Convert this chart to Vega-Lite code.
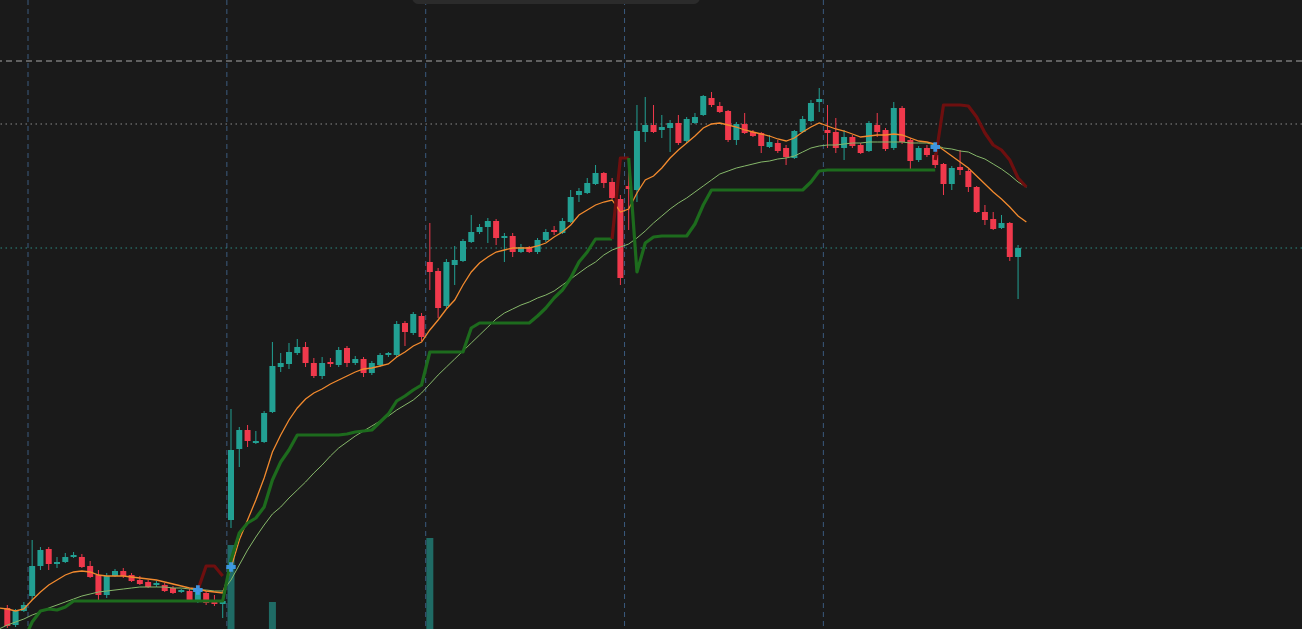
{
  "$schema": "https://vega.github.io/schema/vega-lite/v6.json",
  "width": 1302,
  "height": 629,
  "padding": 0,
  "autosize": {"type": "none"},
  "background": "#1a1a1a",
  "config": {"view": {"stroke": null}, "axis": {"disable": true}, "scale": {"continuousPadding": 0}},
  "datasets": {
    "candles": [
      {"i":0,"o":22.1,"h":22.4,"l":20.1,"c":20.3},{"i":1,"o":20.4,"h":22.0,"l":20.2,"c":21.8},{"i":2,"o":21.8,"h":22.7,"l":21.7,"c":22.4},{"i":3,"o":23.3,"h":28.9,"l":22.9,"c":26.3},{"i":4,"o":26.3,"h":28.2,"l":25.9,"c":27.9},{"i":5,"o":28.0,"h":28.2,"l":25.9,"c":26.5},{"i":6,"o":26.5,"h":27.2,"l":26.1,"c":26.7},{"i":7,"o":26.7,"h":27.6,"l":26.6,"c":27.2},{"i":8,"o":27.2,"h":27.7,"l":27.1,"c":27.4},{"i":9,"o":27.2,"h":27.5,"l":26.1,"c":26.2},
      {"i":10,"o":26.3,"h":26.8,"l":25.1,"c":25.2},{"i":11,"o":25.4,"h":25.9,"l":22.9,"c":23.4},{"i":12,"o":23.4,"h":25.6,"l":23.1,"c":25.3},{"i":13,"o":25.3,"h":26.0,"l":25.2,"c":25.8},{"i":14,"o":25.8,"h":26.1,"l":25.1,"c":25.3},{"i":15,"o":25.4,"h":25.6,"l":24.7,"c":24.8},{"i":16,"o":24.9,"h":25.3,"l":24.4,"c":24.5},{"i":17,"o":24.7,"h":24.9,"l":24.1,"c":24.2},{"i":18,"o":24.4,"h":24.8,"l":24.2,"c":24.6},{"i":19,"o":24.4,"h":24.6,"l":23.7,"c":23.8},
      {"i":20,"o":24.1,"h":24.3,"l":23.5,"c":23.6},{"i":21,"o":23.7,"h":24.0,"l":23.6,"c":23.9},{"i":22,"o":23.8,"h":24.0,"l":22.7,"c":22.8},{"i":23,"o":22.9,"h":23.9,"l":22.6,"c":23.7},{"i":24,"o":23.6,"h":23.8,"l":22.4,"c":22.6},{"i":25,"o":22.8,"h":23.4,"l":22.3,"c":22.5},{"i":26,"o":22.5,"h":22.9,"l":21.1,"c":22.8},{"i":27,"o":30.9,"h":42.0,"l":30.1,"c":37.9},{"i":28,"o":38.0,"h":40.2,"l":36.2,"c":39.9},{"i":29,"o":39.9,"h":40.4,"l":38.2,"c":38.8},
      {"i":30,"o":38.6,"h":39.8,"l":38.5,"c":38.8},{"i":31,"o":38.7,"h":41.8,"l":38.6,"c":41.6},{"i":32,"o":41.7,"h":48.7,"l":41.6,"c":46.3},{"i":33,"o":46.2,"h":47.6,"l":45.7,"c":46.6},{"i":34,"o":46.5,"h":48.6,"l":46.0,"c":47.7},{"i":35,"o":47.6,"h":49.0,"l":47.4,"c":48.2},{"i":36,"o":48.2,"h":48.7,"l":46.2,"c":46.6},{"i":37,"o":46.6,"h":47.1,"l":45.1,"c":45.3},{"i":38,"o":45.3,"h":47.2,"l":45.0,"c":46.6},{"i":39,"o":46.7,"h":47.1,"l":46.2,"c":46.5},
      {"i":40,"o":46.4,"h":48.2,"l":46.2,"c":47.9},{"i":41,"o":48.1,"h":48.3,"l":46.2,"c":46.6},{"i":42,"o":46.6,"h":47.3,"l":46.4,"c":47.0},{"i":43,"o":47.0,"h":47.2,"l":45.2,"c":45.6},{"i":44,"o":45.6,"h":46.8,"l":45.4,"c":46.6},{"i":45,"o":46.4,"h":47.6,"l":46.2,"c":47.4},{"i":46,"o":47.4,"h":47.7,"l":47.2,"c":47.6},{"i":47,"o":47.4,"h":50.8,"l":47.2,"c":50.5},{"i":48,"o":50.6,"h":50.8,"l":48.3,"c":49.7},{"i":49,"o":49.6,"h":51.7,"l":49.4,"c":51.5},
      {"i":50,"o":51.3,"h":51.6,"l":48.8,"c":49.2},{"i":51,"o":56.7,"h":60.6,"l":53.9,"c":55.7},{"i":52,"o":55.8,"h":56.1,"l":51.1,"c":52.1},{"i":53,"o":52.3,"h":57.0,"l":52.1,"c":56.7},{"i":54,"o":56.4,"h":58.3,"l":54.4,"c":56.9},{"i":55,"o":56.8,"h":59.0,"l":56.7,"c":58.8},{"i":56,"o":58.7,"h":61.4,"l":58.6,"c":59.7},{"i":57,"o":59.7,"h":60.5,"l":59.5,"c":60.2},{"i":58,"o":60.2,"h":61.1,"l":58.6,"c":60.8},{"i":59,"o":60.8,"h":61.0,"l":58.4,"c":59.1},
      {"i":60,"o":59.1,"h":59.6,"l":56.7,"c":59.3},{"i":61,"o":59.3,"h":59.6,"l":57.2,"c":57.7},{"i":62,"o":57.7,"h":58.5,"l":57.6,"c":58.2},{"i":63,"o":58.2,"h":58.3,"l":57.6,"c":57.7},{"i":64,"o":57.7,"h":59.1,"l":57.5,"c":58.9},{"i":65,"o":58.9,"h":60.0,"l":58.7,"c":59.7},{"i":66,"o":59.9,"h":60.3,"l":59.4,"c":59.7},{"i":67,"o":59.6,"h":61.1,"l":59.5,"c":60.8},{"i":68,"o":60.7,"h":63.9,"l":60.6,"c":63.2},{"i":69,"o":63.4,"h":64.1,"l":62.7,"c":63.8},
      {"i":70,"o":63.6,"h":65.1,"l":63.5,"c":64.6},{"i":71,"o":64.5,"h":66.4,"l":64.4,"c":65.6},{"i":72,"o":65.6,"h":65.7,"l":64.1,"c":64.6},{"i":73,"o":64.7,"h":65.1,"l":63.0,"c":63.1},{"i":74,"o":63.0,"h":63.4,"l":54.4,"c":55.1},{"i":75,"o":64.3,"h":67.1,"l":59.9,"c":64.0},{"i":76,"o":63.9,"h":72.4,"l":62.7,"c":69.8},{"i":77,"o":69.7,"h":73.2,"l":68.7,"c":70.4},{"i":78,"o":70.4,"h":72.4,"l":69.6,"c":69.7},{"i":79,"o":69.9,"h":71.4,"l":69.1,"c":70.2},
      {"i":80,"o":70.1,"h":70.9,"l":67.7,"c":70.6},{"i":81,"o":70.6,"h":71.4,"l":68.4,"c":68.6},{"i":82,"o":68.8,"h":71.2,"l":68.6,"c":71.0},{"i":83,"o":70.6,"h":71.6,"l":70.5,"c":71.2},{"i":84,"o":71.4,"h":73.4,"l":71.3,"c":73.3},{"i":85,"o":73.1,"h":73.7,"l":72.2,"c":72.4},{"i":86,"o":72.3,"h":72.7,"l":71.6,"c":71.7},{"i":87,"o":71.8,"h":71.9,"l":68.7,"c":68.9},{"i":88,"o":68.9,"h":70.7,"l":68.4,"c":70.5},{"i":89,"o":70.5,"h":71.6,"l":69.5,"c":69.6},
      {"i":90,"o":69.7,"h":69.9,"l":69.2,"c":69.3},{"i":91,"o":69.6,"h":69.7,"l":67.6,"c":68.3},{"i":92,"o":68.2,"h":69.4,"l":68.1,"c":68.7},{"i":93,"o":68.6,"h":68.9,"l":67.6,"c":67.8},{"i":94,"o":68.1,"h":68.4,"l":66.4,"c":67.2},{"i":95,"o":67.1,"h":69.9,"l":67.0,"c":69.8},{"i":96,"o":69.7,"h":71.3,"l":69.6,"c":71.0},{"i":97,"o":70.8,"h":72.9,"l":70.7,"c":72.6},{"i":98,"o":72.7,"h":74.1,"l":71.7,"c":73.0},{"i":99,"o":69.9,"h":72.4,"l":68.1,"c":69.6},
      {"i":100,"o":69.7,"h":71.1,"l":67.6,"c":68.1},{"i":101,"o":68.1,"h":69.9,"l":66.9,"c":69.2},{"i":102,"o":69.2,"h":69.4,"l":68.1,"c":68.3},{"i":103,"o":68.4,"h":68.6,"l":67.5,"c":67.6},{"i":104,"o":67.8,"h":70.8,"l":67.7,"c":70.6},{"i":105,"o":70.4,"h":71.6,"l":69.2,"c":69.7},{"i":106,"o":69.9,"h":70.1,"l":67.8,"c":68.0},{"i":107,"o":68.1,"h":72.7,"l":67.9,"c":72.1},{"i":108,"o":72.1,"h":72.3,"l":68.5,"c":68.7},{"i":109,"o":68.9,"h":69.1,"l":65.9,"c":66.8},
      {"i":110,"o":66.9,"h":68.3,"l":66.7,"c":68.1},{"i":111,"o":68.1,"h":68.4,"l":67.2,"c":67.4},{"i":112,"o":67.4,"h":67.6,"l":66.1,"c":66.4},{"i":113,"o":66.5,"h":66.6,"l":63.4,"c":64.5},{"i":114,"o":64.5,"h":66.3,"l":63.9,"c":66.1},{"i":115,"o":66.2,"h":67.9,"l":65.4,"c":65.9},{"i":116,"o":65.8,"h":66.0,"l":63.7,"c":64.2},{"i":117,"o":64.2,"h":64.3,"l":61.6,"c":61.7},{"i":118,"o":61.7,"h":62.4,"l":60.4,"c":60.9},{"i":119,"o":61.0,"h":61.7,"l":59.9,"c":60.0},
      {"i":120,"o":60.1,"h":61.4,"l":60.0,"c":60.6},{"i":121,"o":60.6,"h":60.7,"l":56.8,"c":57.2},{"i":122,"o":57.2,"h":58.4,"l":53.0,"c":58.1}
    ],
    "ind": [
      {"i":-1,"ema":22.1,"sma":20.0},{"i":0,"ema":22.0,"sma":20.4},{"i":1,"ema":21.8,"sma":20.7},{"i":2,"ema":22.0,"sma":21.0},{"i":3,"ema":22.9,"sma":21.4},{"i":4,"ema":23.7,"sma":21.7},{"i":5,"ema":24.4,"sma":22.1},{"i":6,"ema":24.9,"sma":22.4},{"i":7,"ema":25.4,"sma":22.7},{"i":8,"ema":25.7,"sma":23.0},{"i":9,"ema":25.8,"sma":23.3},
      {"i":10,"ema":25.7,"sma":23.5},{"i":11,"ema":25.4,"sma":23.7},{"i":12,"ema":25.3,"sma":23.8},{"i":13,"ema":25.3,"sma":23.9},{"i":14,"ema":25.3,"sma":24.0},{"i":15,"ema":25.2,"sma":24.1},{"i":16,"ema":25.1,"sma":24.2},{"i":17,"ema":25.0,"sma":24.2},{"i":18,"ema":24.9,"sma":24.2},{"i":19,"ema":24.7,"sma":24.2},
      {"i":20,"ema":24.5,"sma":24.1},{"i":21,"ema":24.3,"sma":24.1},{"i":22,"ema":24.1,"sma":24.0},{"i":23,"ema":24.0,"sma":23.9},{"i":24,"ema":23.8,"sma":23.9},{"i":25,"ema":23.7,"sma":23.8},{"i":26,"ema":23.6,"sma":23.8},{"i":27,"ema":26.1,"sma":24.9},{"i":28,"ema":28.9,"sma":26.4},{"i":29,"ema":30.9,"sma":27.9},
      {"i":30,"ema":32.9,"sma":29.2},{"i":31,"ema":35.1,"sma":30.4},{"i":32,"ema":37.7,"sma":31.5},{"i":33,"ema":39.4,"sma":32.2},{"i":34,"ema":40.9,"sma":33.1},{"i":35,"ema":42.1,"sma":33.9},{"i":36,"ema":43.0,"sma":34.7},{"i":37,"ema":43.6,"sma":35.6},{"i":38,"ema":44.0,"sma":36.4},{"i":39,"ema":44.5,"sma":37.3},
      {"i":40,"ema":44.9,"sma":38.1},{"i":41,"ema":45.3,"sma":38.7},{"i":42,"ema":45.7,"sma":39.3},{"i":43,"ema":46.0,"sma":39.8},{"i":44,"ema":46.1,"sma":40.3},{"i":45,"ema":46.3,"sma":40.8},{"i":46,"ema":46.5,"sma":41.3},{"i":47,"ema":47.2,"sma":41.9},{"i":48,"ema":47.7,"sma":42.4},{"i":49,"ema":48.3,"sma":42.9},
      {"i":50,"ema":48.7,"sma":43.6},{"i":51,"ema":49.9,"sma":44.5},{"i":52,"ema":50.9,"sma":45.4},{"i":53,"ema":52.0,"sma":46.2},{"i":54,"ema":52.9,"sma":47.0},{"i":55,"ema":54.4,"sma":47.8},{"i":56,"ema":55.7,"sma":48.6},{"i":57,"ema":56.6,"sma":49.4},{"i":58,"ema":57.2,"sma":50.2},{"i":59,"ema":57.7,"sma":51.0},
      {"i":60,"ema":57.9,"sma":51.6},{"i":61,"ema":58.1,"sma":52.0},{"i":62,"ema":58.1,"sma":52.4},{"i":63,"ema":58.1,"sma":52.7},{"i":64,"ema":58.3,"sma":53.1},{"i":65,"ema":58.6,"sma":53.4},{"i":66,"ema":59.2,"sma":53.8},{"i":67,"ema":59.7,"sma":54.4},{"i":68,"ema":60.4,"sma":55.0},{"i":69,"ema":61.4,"sma":55.6},
      {"i":70,"ema":61.9,"sma":56.2},{"i":71,"ema":62.4,"sma":56.7},{"i":72,"ema":62.7,"sma":57.4},{"i":73,"ema":62.9,"sma":57.9},{"i":74,"ema":61.7,"sma":58.2},{"i":75,"ema":62.0,"sma":58.5},{"i":76,"ema":63.6,"sma":59.1},{"i":77,"ema":64.9,"sma":59.8},{"i":78,"ema":65.3,"sma":60.6},{"i":79,"ema":66.1,"sma":61.3},
      {"i":80,"ema":67.1,"sma":62.0},{"i":81,"ema":67.9,"sma":62.6},{"i":82,"ema":68.6,"sma":63.1},{"i":83,"ema":69.3,"sma":63.7},{"i":84,"ema":70.1,"sma":64.3},{"i":85,"ema":70.5,"sma":64.9},{"i":86,"ema":70.6,"sma":65.5},{"i":87,"ema":70.4,"sma":65.8},{"i":88,"ema":70.2,"sma":66.1},{"i":89,"ema":69.9,"sma":66.3},
      {"i":90,"ema":69.7,"sma":66.5},{"i":91,"ema":69.5,"sma":66.7},{"i":92,"ema":69.3,"sma":66.8},{"i":93,"ema":69.0,"sma":67.0},{"i":94,"ema":68.8,"sma":67.1},{"i":95,"ema":69.1,"sma":67.3},{"i":96,"ema":69.7,"sma":67.7},{"i":97,"ema":70.2,"sma":68.1},{"i":98,"ema":70.6,"sma":68.3},{"i":99,"ema":70.3,"sma":68.4},
      {"i":100,"ema":70.0,"sma":68.4},{"i":101,"ema":69.8,"sma":68.5},{"i":102,"ema":69.5,"sma":68.6},{"i":103,"ema":69.2,"sma":68.6},{"i":104,"ema":69.3,"sma":68.7},{"i":105,"ema":69.4,"sma":68.7},{"i":106,"ema":69.4,"sma":68.7},{"i":107,"ema":69.5,"sma":68.7},{"i":108,"ema":69.4,"sma":68.7},{"i":109,"ema":69.1,"sma":68.6},
      {"i":110,"ema":68.8,"sma":68.6},{"i":111,"ema":68.7,"sma":68.6},{"i":112,"ema":68.5,"sma":68.4},{"i":113,"ema":67.9,"sma":68.1},{"i":114,"ema":67.3,"sma":68.0},{"i":115,"ema":66.7,"sma":67.8},{"i":116,"ema":66.1,"sma":67.7},{"i":117,"ema":65.3,"sma":67.3},{"i":118,"ema":64.5,"sma":67.0},{"i":119,"ema":63.7,"sma":66.5},
      {"i":120,"ema":63.0,"sma":66.0},{"i":121,"ema":62.2,"sma":65.4},{"i":122,"ema":61.3,"sma":64.7},{"i":123,"ema":60.7,"sma":64.2}
    ],
    "stops": [
      {"i":2,"s":18.9,"seg":"g1","side":"long"},{"i":3,"s":20.7,"seg":"g1","side":"long"},{"i":4,"s":21.8,"seg":"g1","side":"long"},{"i":5,"s":22.0,"seg":"g1","side":"long"},{"i":6,"s":21.9,"seg":"g1","side":"long"},{"i":7,"s":22.2,"seg":"g1","side":"long"},{"i":8,"s":22.8,"seg":"g1","side":"long"},{"i":9,"s":22.8,"seg":"g1","side":"long"},{"i":10,"s":22.8,"seg":"g1","side":"long"},{"i":11,"s":22.8,"seg":"g1","side":"long"},{"i":12,"s":22.8,"seg":"g1","side":"long"},{"i":13,"s":22.8,"seg":"g1","side":"long"},{"i":14,"s":22.8,"seg":"g1","side":"long"},{"i":15,"s":22.8,"seg":"g1","side":"long"},{"i":16,"s":22.8,"seg":"g1","side":"long"},{"i":17,"s":22.8,"seg":"g1","side":"long"},{"i":18,"s":22.8,"seg":"g1","side":"long"},{"i":19,"s":22.8,"seg":"g1","side":"long"},{"i":20,"s":22.8,"seg":"g1","side":"long"},{"i":21,"s":22.8,"seg":"g1","side":"long"},{"i":22,"s":22.8,"seg":"g1","side":"long"},{"i":23,"s":22.8,"seg":"g1","side":"long"},{"i":24,"s":22.8,"seg":"g1","side":"long"},{"i":25,"s":22.8,"seg":"g1","side":"long"},{"i":26,"s":22.8,"seg":"g1","side":"long"},
      {"i":27,"s":26.9,"seg":"g1","side":"long"},{"i":28,"s":29.6,"seg":"g1","side":"long"},{"i":29,"s":30.6,"seg":"g1","side":"long"},{"i":30,"s":31.1,"seg":"g1","side":"long"},{"i":31,"s":32.2,"seg":"g1","side":"long"},{"i":32,"s":34.9,"seg":"g1","side":"long"},{"i":33,"s":36.7,"seg":"g1","side":"long"},{"i":34,"s":37.9,"seg":"g1","side":"long"},{"i":35,"s":39.4,"seg":"g1","side":"long"},{"i":36,"s":39.4,"seg":"g1","side":"long"},{"i":37,"s":39.4,"seg":"g1","side":"long"},{"i":38,"s":39.4,"seg":"g1","side":"long"},{"i":39,"s":39.4,"seg":"g1","side":"long"},{"i":40,"s":39.4,"seg":"g1","side":"long"},{"i":41,"s":39.5,"seg":"g1","side":"long"},{"i":42,"s":39.7,"seg":"g1","side":"long"},{"i":43,"s":39.8,"seg":"g1","side":"long"},{"i":44,"s":39.9,"seg":"g1","side":"long"},{"i":45,"s":40.7,"seg":"g1","side":"long"},{"i":46,"s":41.5,"seg":"g1","side":"long"},{"i":47,"s":42.8,"seg":"g1","side":"long"},{"i":48,"s":43.3,"seg":"g1","side":"long"},{"i":49,"s":43.9,"seg":"g1","side":"long"},{"i":50,"s":44.4,"seg":"g1","side":"long"},
      {"i":51,"s":47.7,"seg":"g1","side":"long"},{"i":52,"s":47.7,"seg":"g1","side":"long"},{"i":53,"s":47.7,"seg":"g1","side":"long"},{"i":54,"s":47.7,"seg":"g1","side":"long"},{"i":55,"s":47.7,"seg":"g1","side":"long"},{"i":56,"s":50.1,"seg":"g1","side":"long"},{"i":57,"s":50.6,"seg":"g1","side":"long"},{"i":58,"s":50.6,"seg":"g1","side":"long"},{"i":59,"s":50.6,"seg":"g1","side":"long"},{"i":60,"s":50.6,"seg":"g1","side":"long"},{"i":61,"s":50.6,"seg":"g1","side":"long"},{"i":62,"s":50.6,"seg":"g1","side":"long"},{"i":63,"s":50.6,"seg":"g1","side":"long"},{"i":64,"s":51.3,"seg":"g1","side":"long"},{"i":65,"s":52.1,"seg":"g1","side":"long"},{"i":66,"s":53.1,"seg":"g1","side":"long"},{"i":67,"s":53.9,"seg":"g1","side":"long"},{"i":68,"s":55.1,"seg":"g1","side":"long"},{"i":69,"s":56.7,"seg":"g1","side":"long"},{"i":70,"s":57.7,"seg":"g1","side":"long"},{"i":71,"s":59.0,"seg":"g1","side":"long"},{"i":72,"s":59.0,"seg":"g1","side":"long"},{"i":73,"s":59.0,"seg":"g1","side":"long"},
      {"i":23,"s":23.9,"seg":"r1","side":"short"},{"i":24,"s":26.3,"seg":"r1","side":"short"},{"i":25,"s":26.3,"seg":"r1","side":"short"},{"i":26,"s":25.3,"seg":"r1","side":"short"},
      {"i":73,"s":59.0,"seg":"r2","side":"short"},{"i":74,"s":67.1,"seg":"r2","side":"short"},{"i":75,"s":67.1,"seg":"r2","side":"short"},
      {"i":75,"s":67.1,"seg":"g2","side":"long"},{"i":76,"s":55.7,"seg":"g2","side":"long"},{"i":77,"s":58.6,"seg":"g2","side":"long"},{"i":78,"s":59.2,"seg":"g2","side":"long"},{"i":79,"s":59.3,"seg":"g2","side":"long"},{"i":80,"s":59.3,"seg":"g2","side":"long"},{"i":81,"s":59.3,"seg":"g2","side":"long"},{"i":82,"s":59.3,"seg":"g2","side":"long"},{"i":83,"s":60.5,"seg":"g2","side":"long"},{"i":84,"s":62.4,"seg":"g2","side":"long"},{"i":85,"s":63.9,"seg":"g2","side":"long"},{"i":86,"s":63.9,"seg":"g2","side":"long"},{"i":87,"s":63.9,"seg":"g2","side":"long"},{"i":88,"s":63.9,"seg":"g2","side":"long"},{"i":89,"s":63.9,"seg":"g2","side":"long"},{"i":90,"s":63.9,"seg":"g2","side":"long"},{"i":91,"s":63.9,"seg":"g2","side":"long"},{"i":92,"s":63.9,"seg":"g2","side":"long"},{"i":93,"s":63.9,"seg":"g2","side":"long"},{"i":94,"s":63.9,"seg":"g2","side":"long"},{"i":95,"s":63.9,"seg":"g2","side":"long"},{"i":96,"s":63.9,"seg":"g2","side":"long"},{"i":97,"s":64.7,"seg":"g2","side":"long"},{"i":98,"s":65.8,"seg":"g2","side":"long"},{"i":99,"s":65.9,"seg":"g2","side":"long"},{"i":100,"s":65.9,"seg":"g2","side":"long"},{"i":101,"s":65.9,"seg":"g2","side":"long"},{"i":102,"s":65.9,"seg":"g2","side":"long"},{"i":103,"s":65.9,"seg":"g2","side":"long"},{"i":104,"s":65.9,"seg":"g2","side":"long"},{"i":105,"s":65.9,"seg":"g2","side":"long"},{"i":106,"s":65.9,"seg":"g2","side":"long"},{"i":107,"s":65.9,"seg":"g2","side":"long"},{"i":108,"s":65.9,"seg":"g2","side":"long"},{"i":109,"s":65.9,"seg":"g2","side":"long"},{"i":110,"s":65.9,"seg":"g2","side":"long"},{"i":111,"s":65.9,"seg":"g2","side":"long"},{"i":112,"s":65.9,"seg":"g2","side":"long"},
      {"i":112,"s":66.9,"seg":"r3","side":"short"},{"i":113,"s":72.4,"seg":"r3","side":"short"},{"i":114,"s":72.4,"seg":"r3","side":"short"},{"i":115,"s":72.4,"seg":"r3","side":"short"},{"i":116,"s":72.3,"seg":"r3","side":"short"},{"i":117,"s":71.2,"seg":"r3","side":"short"},{"i":118,"s":69.6,"seg":"r3","side":"short"},{"i":119,"s":68.4,"seg":"r3","side":"short"},{"i":120,"s":67.9,"seg":"r3","side":"short"},{"i":121,"s":66.9,"seg":"r3","side":"short"},{"i":122,"s":65.1,"seg":"r3","side":"short"},{"i":123,"s":64.2,"seg":"r3","side":"short"}
    ],
    "vol": [{"i":27,"v":1540},{"i":32,"v":970},{"i":51,"v":1610}],
    "signals": [{"i":23,"p":23.9},{"i":27,"p":26.2},{"i":112,"p":68.2}],
    "levels": [{"p":76.8,"k":"a"},{"p":70.5,"k":"b"},{"p":58.1,"k":"c"}],
    "periods": [{"i":2.5},{"i":26.5},{"i":50.5},{"i":74.5},{"i":98.5}]
  },
  "resolve": {"scale": {"y": "independent"}},
  "layer": [
    {
      "data": {"name": "vol"},
      "mark": {"type": "bar", "width": 7, "color": "#1f6b65", "clip": true},
      "encoding": {
        "x": {"field": "i", "type": "quantitative", "scale": {"domain": [-0.881, 156.27], "nice": false, "zero": false, "padding": 0}},
        "y": {"field": "v", "type": "quantitative", "scale": {"domain": [700, 6990], "nice": false, "zero": false, "padding": 0}},
        "y2": {"datum": 0}
      }
    },
    {
      "layer": [
        {
          "data": {"name": "periods"},
          "mark": {"type": "rule", "color": "#3a5a7e", "strokeDash": [5, 4], "strokeWidth": 1},
          "encoding": {"x": {"field": "i", "type": "quantitative", "scale": {"domain": [-0.881, 156.27], "nice": false, "zero": false, "padding": 0}}}
        },
        {
          "data": {"name": "levels"},
          "transform": [{"filter": "datum.k == 'a'"}],
          "mark": {"type": "rule", "color": "#a8a8a8", "strokeDash": [6, 4], "strokeWidth": 1},
          "encoding": {"y": {"field": "p", "type": "quantitative", "scale": {"domain": [20, 82.9], "nice": false, "zero": false, "padding": 0}}}
        },
        {
          "data": {"name": "levels"},
          "transform": [{"filter": "datum.k == 'b'"}],
          "mark": {"type": "rule", "color": "#8a8a8a", "strokeDash": [1.5, 3.5], "strokeWidth": 1},
          "encoding": {"y": {"field": "p", "type": "quantitative"}}
        },
        {
          "data": {"name": "levels"},
          "transform": [{"filter": "datum.k == 'c'"}],
          "mark": {"type": "rule", "color": "#2b8c83", "strokeDash": [1.5, 3.5], "strokeWidth": 1},
          "encoding": {"y": {"field": "p", "type": "quantitative"}}
        },
        {
          "data": {"name": "candles"},
          "mark": {"type": "rule", "strokeWidth": 1, "clip": true},
          "encoding": {
            "x": {"field": "i", "type": "quantitative"},
            "y": {"field": "l", "type": "quantitative"},
            "y2": {"field": "h"},
            "color": {"condition": {"test": "datum.c >= datum.o", "value": "#22a093"}, "value": "#f0394c"}
          }
        },
        {
          "data": {"name": "candles"},
          "mark": {"type": "bar", "width": 6, "clip": true},
          "encoding": {
            "x": {"field": "i", "type": "quantitative"},
            "y": {"field": "o", "type": "quantitative"},
            "y2": {"field": "c"},
            "color": {"condition": {"test": "datum.c >= datum.o", "value": "#22a093"}, "value": "#f0394c"}
          }
        },
        {
          "data": {"name": "ind"},
          "mark": {"type": "line", "color": "#86b86a", "strokeWidth": 1, "clip": true},
          "encoding": {"x": {"field": "i", "type": "quantitative"}, "y": {"field": "sma", "type": "quantitative"}}
        },
        {
          "data": {"name": "ind"},
          "mark": {"type": "line", "color": "#f28a2e", "strokeWidth": 1.3, "clip": true},
          "encoding": {"x": {"field": "i", "type": "quantitative"}, "y": {"field": "ema", "type": "quantitative"}}
        },
        {
          "data": {"name": "stops"},
          "mark": {"type": "line", "strokeWidth": 3.2, "clip": true, "strokeJoin": "round"},
          "encoding": {
            "x": {"field": "i", "type": "quantitative"},
            "y": {"field": "s", "type": "quantitative"},
            "detail": {"field": "seg"},
            "color": {"field": "side", "type": "nominal", "scale": {"domain": ["long", "short"], "range": ["#1d6b1d", "#6e0f0f"]}, "legend": null}
          }
        },
        {
          "data": {"name": "signals"},
          "mark": {"type": "point", "shape": "cross", "filled": true, "size": 90, "color": "#3d9be9", "opacity": 0.95},
          "encoding": {"x": {"field": "i", "type": "quantitative"}, "y": {"field": "p", "type": "quantitative"}}
        },
        {
          "data": {"values": [{}]},
          "mark": {"type": "rect", "color": "#2b2b2b", "cornerRadius": 6, "clip": true},
          "encoding": {
            "x": {"datum": 48.87, "type": "quantitative"},
            "x2": {"datum": 83.6},
            "y": {"datum": 82.5, "type": "quantitative"},
            "y2": {"datum": 84.5}
          }
        }
      ]
    }
  ]
}
